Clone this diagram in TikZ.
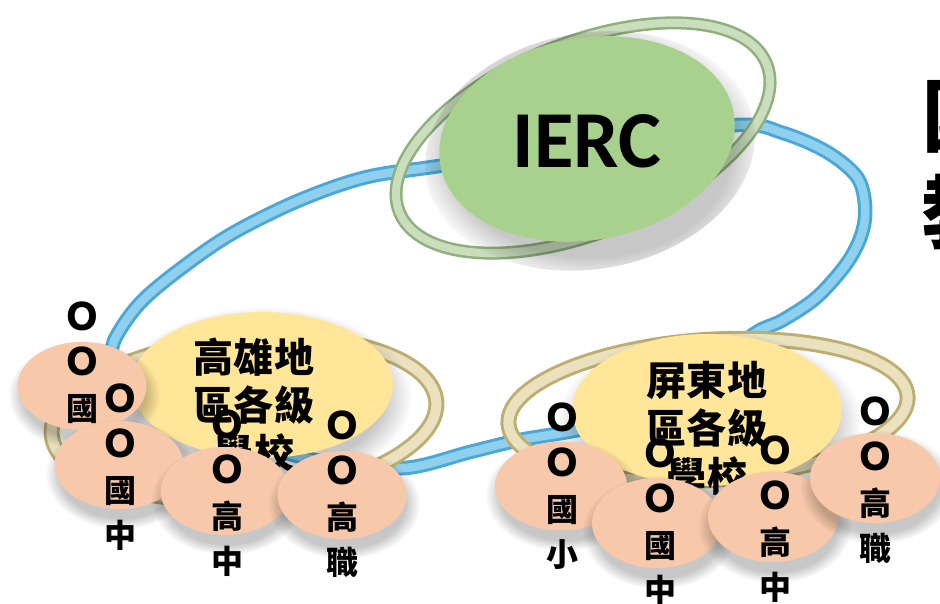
\documentclass[tikz,border=0pt]{standalone}
\usepackage{fontspec}
\newfontfamily\cjk{Noto Sans CJK TC}
\newfontfamily\carlito{Carlito}
\usetikzlibrary{shapes.geometric,fadings}
\definecolor{iercgreen}{HTML}{A9D18E}
\definecolor{greenedge}{HTML}{8EB07C}
\definecolor{greencore}{HTML}{CADDBD}
\definecolor{blueedge}{HTML}{4BA8D6}
\definecolor{bluecore}{HTML}{8FD0EE}
\definecolor{tanedge}{HTML}{BFAE72}
\definecolor{tancore}{HTML}{EAE1BF}
\definecolor{yellowc}{HTML}{FFE699}
\definecolor{peachc}{HTML}{F7C8A9}
\newcommand\ooh{{\fontsize{21.5}{25.6}\selectfont Ｏ}}
\begin{document}
\begin{tikzpicture}[x=0.02cm, y=0.02cm,
  softshadow/.style={fill=black, opacity=0.22, path fading=circle with fuzzy edge 20 percent},
  blueribbon/.style={draw=blueedge, double=bluecore, line width=0.06cm, double distance=0.17cm},
  greenribbon/.style={draw=greenedge, double=greencore, line width=0.05cm, double distance=0.16cm},
  tanribbon/.style={draw=tanedge, double=tancore, line width=0.06cm, double distance=0.2cm},
  iercshape/.style={ellipse, fill=iercgreen, minimum width=5.96cm, minimum height=4.04cm, inner sep=0pt},
  iercfont/.style={font={\carlito\bfseries\fontsize{46}{50}\selectfont}, inner sep=0pt},
  yshape/.style={ellipse, fill=yellowc, inner sep=0pt},
  ytext/.style={font={\cjk\bfseries\fontsize{22.8}{27.3}\selectfont}, align=center, inner sep=0pt},
  peach/.style={ellipse, fill=peachc, minimum width=2.58cm, minimum height=1.76cm, inner sep=0pt},
  plbl/.style={font={\cjk\bfseries\fontsize{18.2}{25.6}\selectfont}, align=center, inner sep=0pt},
  titlefont/.style={font={\cjk\bfseries\fontsize{45.5}{50}\selectfont}, inner sep=0pt, anchor=west}
]
\useasboundingbox (0,0) rectangle (940,603);
\clip (0,0) rectangle (940,603);
\fill[white] (0,0) rectangle (940,603);

% blue ribbon loop
\draw[blueribbon] plot[smooth cycle, tension=0.55] coordinates {
  (120,273) (143,303) (183,336) (233,370) (300,403) (367,426) (445,438)
  (590,463) (737,478) (783,470) (827,451) (857,426) (865,398) (862,370)
  (847,340) (817,306) (783,283) (750,266) (700,213) (600,178) (520,163)
  (470,151) (405,135) (330,140) (250,160) (170,185) (125,215) (112,250)};

% green ring around IERC
\draw[greenribbon, rotate around={22:(583,465)}] (583,465) ellipse [x radius=198, y radius=95];

% IERC
\fill[softshadow, rotate around={10:(590,452)}] (590,452) ellipse [x radius=166, y radius=118];
\node[iercshape, rotate=10] (ierc) at (587,464) {};
\node[iercfont] (iercl) at (587,462) {IERC};

% title, cut by the right edge
\node[titlefont] (t1) at (922,486) {國};
\node[titlefont] (t2) at (922,391) {教};

% tan rings
\draw[tanribbon, rotate around={5:(244,185)}] (244,185) ellipse [x radius=193, y radius=80];
\draw[tanribbon, rotate around={4:(708,193)}] (708,193) ellipse [x radius=200, y radius=70];

% yellow ellipses
\fill[softshadow] (264,206) ellipse [x radius=148, y radius=90];
\node[yshape, minimum width=5.24cm, minimum height=2.92cm] (ks) at (262,218) {};
\node[ytext] (kst) at (254,198) {高雄地\\區各級\\學校};
\fill[softshadow] (709,181) ellipse [x radius=152, y radius=92];
\node[yshape, minimum width=5.4cm, minimum height=3.04cm] (pt) at (707,193) {};
\node[ytext] (ptt) at (707,175) {屏東地\\區各級\\學校};

% Kaohsiung schools
\fill[softshadow] (84,208) ellipse [x radius=76, y radius=55];
\node[peach] (ka) at (82,217) {};
\node[plbl] (kat) at (82,240) {\ooh\\\ooh\\國};
\fill[softshadow] (121,129) ellipse [x radius=76, y radius=55];
\node[peach] (kb) at (119,138) {};
\node[plbl] (kbt) at (120,136) {\ooh\\\ooh\\國\\中};
\fill[softshadow] (227,103) ellipse [x radius=76, y radius=55];
\node[peach] (kc) at (225,112) {};
\node[plbl] (kct) at (227,110) {\ooh\\\ooh\\高\\中};
\fill[softshadow] (344,99) ellipse [x radius=76, y radius=55];
\node[peach] (kd) at (342,108) {};
\node[plbl] (kdt) at (342,109) {\ooh\\\ooh\\高\\職};

% Pingtung schools
\fill[softshadow] (563,108) ellipse [x radius=78, y radius=56];
\node[peach, minimum width=2.64cm, minimum height=1.78cm] (pa) at (561,117) {};
\node[plbl] (pat) at (562,117) {\ooh\\\ooh\\國\\小};
\fill[softshadow] (659,71) ellipse [x radius=77, y radius=57];
\node[peach, minimum width=2.6cm, minimum height=1.8cm] (pb) at (657,80) {};
\node[plbl] (pbt) at (660,81) {\ooh\\\ooh\\國\\中};
\fill[softshadow] (775,77) ellipse [x radius=77, y radius=57];
\node[peach, minimum width=2.6cm, minimum height=1.8cm] (pc) at (773,86) {};
\node[plbl] (pct) at (775,84) {\ooh\\\ooh\\高\\中};
\fill[softshadow] (877,116) ellipse [x radius=77, y radius=57];
\node[peach, minimum width=2.6cm, minimum height=1.8cm] (pd) at (875,125) {};
\node[plbl] (pdt) at (875,123) {\ooh\\\ooh\\高\\職};
\end{tikzpicture}
\end{document}
